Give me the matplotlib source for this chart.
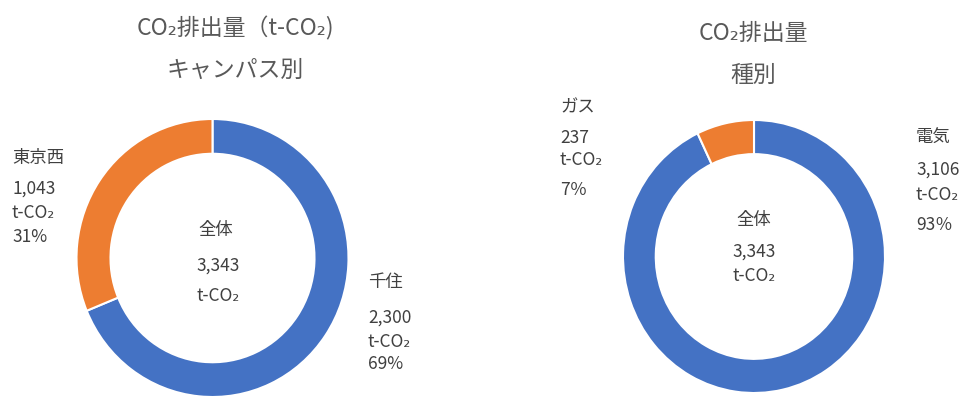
import matplotlib
matplotlib.use("Agg")
import matplotlib.pyplot as plt

plt.rcParams['font.family'] = ['Noto Sans CJK JP', 'DejaVu Sans']

# Data
campus_labels = ["千住", "東京西"]
campus_values = [2300, 1043]
type_labels = ["電気", "ガス"]
type_values = [3106, 237]
total_value = 3343
colors = ["#4472C4", "#ED7D31"]

W, H = 962, 399
fig = plt.figure(figsize=(W / 100, H / 100), dpi=100)
fig.patch.set_facecolor("white")

def add_donut(cx, cy, rx, ry, values):
    ax = fig.add_axes([(cx - rx) / W, 1 - (cy + ry) / H, 2 * rx / W, 2 * ry / H])
    ax.pie(values, colors=colors, startangle=90, counterclock=False,
           radius=1.0, wedgeprops=dict(width=0.25, edgecolor="white", linewidth=1.5))
    ax.set_aspect("auto")
    ax.set_xlim(-1, 1)
    ax.set_ylim(-1, 1)
    ax.axis("off")
    return ax

add_donut(212.5, 258, 136, 139, campus_values)
add_donut(754, 256.5, 131, 136.5, type_values)

def t(x, y, s, size=12.5, ha="left", color="#404040"):
    fig.text(x / W, 1 - y / H, s, fontsize=size, ha=ha, va="center", color=color)

title_c = "#595959"
ts = 16.5
t(235, 28, "CO₂排出量（t-CO₂)", size=ts, ha="center", color=title_c)
t(235, 70, "キャンパス別", size=ts, ha="center", color=title_c)
t(753, 34, "CO₂排出量", size=ts, ha="center", color=title_c)
t(753, 75, "種別", size=ts, ha="center", color=title_c)

# center labels
t(216, 230, "全体", ha="center")
t(218, 266, f"{total_value:,}", ha="center")
t(218, 296, "t-CO₂", ha="center")
t(754, 220, "全体", ha="center")
t(754, 252, f"{total_value:,}", ha="center")
t(754, 276, "t-CO₂", ha="center")

tot_c = sum(campus_values)
tot_t = sum(type_values)

# 東京西
t(12, 158, campus_labels[1])
t(12, 189, f"{campus_values[1]:,}")
t(12, 213, "t-CO₂")
t(12, 237, f"{round(100 * campus_values[1] / tot_c)}%")
# 千住
t(368, 282, campus_labels[0])
t(368, 318, f"{campus_values[0]:,}")
t(368, 342, "t-CO₂")
t(368, 364, f"{round(100 * campus_values[0] / tot_c)}%")
# ガス
t(560, 107, type_labels[1])
t(560, 138, f"{type_values[1]:,}")
t(560, 160, "t-CO₂")
t(560, 190, f"{round(100 * type_values[1] / tot_t)}％")
# 電気
t(916, 138, type_labels[0])
t(916, 170, f"{type_values[0]:,}")
t(916, 195, "t-CO₂")
t(916, 225, f"{round(100 * type_values[0] / tot_t)}％")

fig.savefig("out.png", dpi=100, facecolor="white")
